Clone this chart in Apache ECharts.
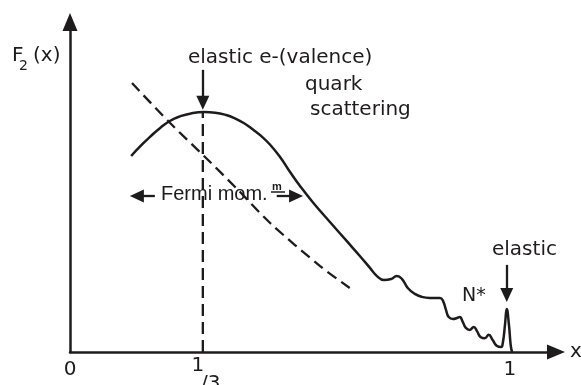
<!DOCTYPE html>
<html><head><meta charset="utf-8">
<script src="https://cdn.jsdelivr.net/npm/echarts@6/dist/echarts.min.js"></script>
<style>html,body{margin:0;padding:0;background:#fff}#c{width:581px;height:385px}</style>
</head><body><div id="c"></div>
<script>
// Tick marks on the x axis (schematic positions) and their labels
const tickValues = [0, 0.302, 1];
const tickLabels = ['0', '1/3', '1'];

// Solid F2(x) curve (schematic, arbitrary units)
const solidCurve = [
  [0.139,59.4],[0.160,62.4],[0.182,65.2],[0.205,67.9],[0.227,70.0],[0.250,71.4],[0.275,72.3],[0.305,72.7],[0.330,72.5],[0.355,71.8],[0.375,70.8],
  [0.395,69.4],[0.416,67.4],[0.435,65.4],[0.455,62.8],[0.478,59.0],[0.500,54.6],[0.523,50.3],[0.552,45.4],[0.591,39.4],[0.630,33.5],
  [0.659,29.1],[0.682,25.5],[0.698,23.0],[0.714,21.8],[0.730,22.1],[0.743,23.0],[0.755,22.1],
  [0.768,19.4],[0.784,17.6],[0.800,16.7],[0.818,16.4],[0.841,16.4],[0.848,15.5],[0.855,12.7],
  [0.861,10.6],[0.871,10.0],[0.880,10.3],[0.886,10.6],[0.893,9.1],[0.900,7.3],[0.909,6.7],
  [0.918,7.6],[0.925,6.4],[0.934,4.5],[0.943,4.2],[0.952,5.2],[0.961,3.6],[0.971,1.8],
  [0.980,1.5],[0.984,2.7],[0.989,8.2],[0.993,13.0],[0.998,8.2],[1.002,2.1],[1.005,0]
];

// Dashed curve
const dashedCurve = [
  [0.141,81.5],[0.223,70.0],[0.307,59.1],[0.380,49.4],[0.455,39.1],[0.568,26.1],[0.636,19.4]
];

// Vertical dashed line at x = 1/3 up to the peak
const thirdLine = [[0.302,0],[0.302,72.7]];

// Annotation arrows [from, to]
const arrowSegments = [
  [[0.302,85.5],[0.302,75.5]],   // elastic e-(valence) quark scattering
  [[0.993,26.4],[0.993,17.3]],   // elastic
  [[0.193,47.3],[0.152,47.3]],   // Fermi mom. left
  [[0.470,47.3],[0.514,47.3]]    // Fermi mom. right
];

const ink = '#1e1b1c';
const chart = echarts.init(document.getElementById('c'), null, {renderer:'canvas'});
const txt = (text, x, y, size, fam, extra) => Object.assign({
  type:'text', x:x, y:y, silent:true, z:50,
  style:{text:text, fontSize:size, fontFamily:fam||'DejaVu Sans', fill:ink, align:'left', verticalAlign:'middle'}
}, extra||{});

chart.setOption({
  animation:false,
  backgroundColor:'#fff',
  grid:{left:70, right:25, top:22, bottom:33, outerBoundsMode:'none', containLabel:false},
  xAxis:{
    type:'value', min:0, max:1.105,
    splitLine:{show:false}, axisTick:{show:false},
    axisLine:{show:true, onZero:false, symbol:['none','triangle'], symbolSize:[15,18],
      lineStyle:{color:ink, width:2.5}},
    axisLabel:{
      customValues: tickValues, margin:8, color:ink,
      formatter:function(v){
        let i = tickValues.findIndex(t => Math.abs(t - v) < 1e-6);
        let s = i >= 0 ? tickLabels[i] : '';
        if (s.indexOf('/') > 0) { const p = s.split('/'); return '{n|' + p[0] + '}\n{d|/' + p[1] + '}'; }
        return '{v|' + s + '}';
      },
      rich:{
        v:{fontSize:20, fontFamily:'DejaVu Sans', color:ink, lineHeight:20},
        n:{fontSize:20, fontFamily:'DejaVu Sans', color:ink, lineHeight:12, padding:[0,10,0,0]},
        d:{fontSize:20, fontFamily:'DejaVu Sans', color:ink, lineHeight:24, padding:[0,0,0,16]}
      }
    },
    name:'x', nameLocation:'end', nameGap:14,
    nameTextStyle:{fontSize:20, fontFamily:'DejaVu Sans', color:ink}
  },
  yAxis:{
    type:'value', min:0, max:100,
    splitLine:{show:false}, axisTick:{show:false}, axisLabel:{show:false},
    axisLine:{show:true, onZero:false, symbol:['none','triangle'], symbolSize:[15,18],
      lineStyle:{color:ink, width:2.5}}
  },
  series:[
    {type:'line', data:solidCurve, showSymbol:false, smooth:0.5, silent:true,
     lineStyle:{color:ink, width:2.5}},
    {type:'line', data:dashedCurve, showSymbol:false, smooth:0.3, silent:true,
     lineStyle:{color:ink, width:2.3, type:[11,6]}},
    {type:'line', data:thirdLine, showSymbol:false, silent:true,
     lineStyle:{color:ink, width:2.3, type:[12,6]},
     markLine:{
       silent:true, symbol:['none','triangle'], symbolSize:[13,14], precision:4,
       label:{show:false}, emphasis:{disabled:true},
       lineStyle:{color:ink, width:2.3, type:'solid'},
       data: arrowSegments.map(s => [{coord:s[0]},{coord:s[1]}])
     }}
  ],
  graphic:[
    txt('elastic e-(valence)', 188, 58, 20),
    txt('quark', 305, 85, 20),
    txt('scattering', 310, 110, 20),
    txt('Fermi mom.', 161, 194, 20, 'Liberation Sans'),
    {type:'text', x:277, y:187, silent:true, z:50,
     style:{text:'m', fontSize:11, fontWeight:'bold', fontFamily:'Liberation Sans', fill:ink, align:'center', verticalAlign:'middle'}},
    {type:'line', silent:true, z:50, shape:{x1:271, y1:192, x2:285, y2:192}, style:{stroke:ink, lineWidth:1.5}},
    txt('N*', 462, 296, 19),
    txt('elastic', 492, 250, 20),
    txt('F', 12, 56, 20),
    txt('2', 19, 66, 14),
    txt('(x)', 33, 56, 20)
  ]
});
</script></body></html>
